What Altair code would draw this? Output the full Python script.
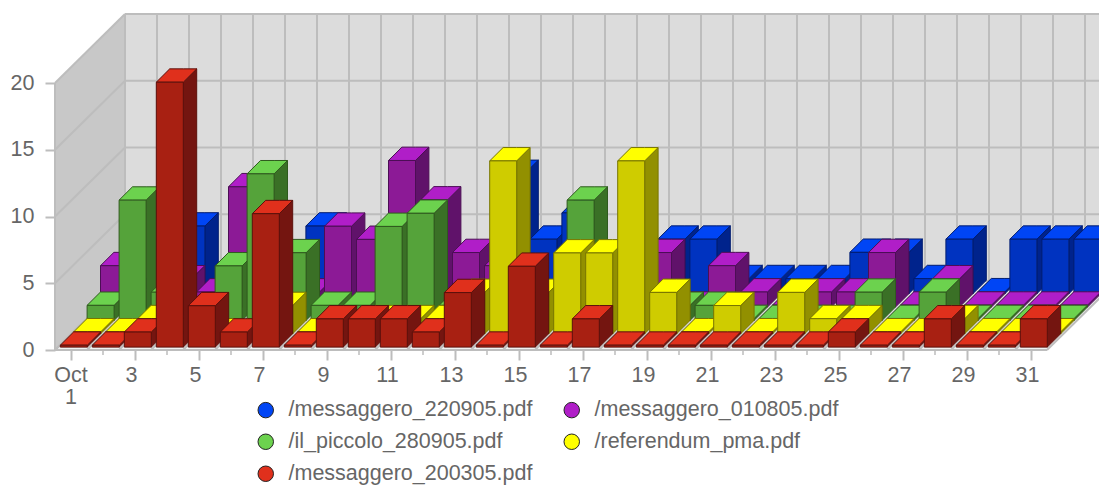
import altair as alt
import pandas as pd

days = list(range(1, 32))
names = ["/messaggero_220905.pdf", "/messaggero_010805.pdf", "/il_piccolo_280905.pdf",
         "/referendum_pma.pdf", "/messaggero_200305.pdf"]
blue   = [0,0,5,0,0,0,5,0,0,0,0,0,9,4,6,0,0,4,4,1,1,1,1,3,3,1,4,0,4,4,4]
purple = [3,0,2,1,9,0,1,6,5,11,8,4,3,0,0,0,0,4,0,3,1,0,1,1,4,0,2,0,0,0,0]
green  = [1,9,2,0,4,11,5,1,1,7,8,1,0,0,0,9,0,0,1,1,0,0,0,0,2,0,2,0,0,0,0]
yellow = [0,0,1,0,0,0,2,0,0,1,1,1,3,13,3,6,6,13,3,0,2,0,3,1,1,0,0,1,0,0,0]
red    = [0,0,1,20,3,1,10,0,2,2,2,1,4,0,6,0,2,0,0,0,0,0,0,0,1,0,0,2,0,0,2]
series = [blue, purple, green, yellow, red]

top_colors   = ["#0045f5", "#b01ec8", "#6cd24e", "#ffff00", "#e0301c"]
front_colors = ["#0033c0", "#8c1a96", "#55a33a", "#cfcc00", "#a82012"]
side_colors  = ["#00238c", "#60126a", "#3a7026", "#929000", "#741510"]
edge_colors  = ["#001c70", "#4c0e55", "#2f5a1e", "#777400", "#5c100c"]

WALL = "#dcdcdc"
SIDE = "#c8c8c8"
FLOOR = "#f2f2f2"
GRID = "#bdbdbd"
TEXT = "#666666"
FONT = "Liberation Sans"

PXX, PXY = 32.0, 13.35
W, H = 1044, 340
x_scale = alt.Scale(domain=[0.5, 0.5 + W / PXX], nice=False, zero=False)
y_scale = alt.Scale(domain=[0, H / PXY], nice=False, zero=False)
x_axis = alt.Axis(values=days[::2], labels=False, title=None, domain=False, grid=False,
                  tickColor=GRID, tickWidth=2, tickSize=10)
y_axis = alt.Axis(values=[0, 5, 10, 15, 20], title=None, domain=False, grid=False, tickColor=GRID,
                  tickWidth=2, tickSize=10, labelFont=FONT, labelFontSize=21.5, labelColor=TEXT,
                  labelPadding=11)
X = alt.X("x:Q", scale=x_scale, axis=x_axis)
Y = alt.Y("y:Q", scale=y_scale, axis=y_axis)
X2 = alt.X2("x2:Q")
Y2 = alt.Y2("y2:Q")

wall_dx, wall_dy = 70 / PXX, 5.17
step_dx, step_dy = 13.4 / PXX, 1.0
left_off, bar_w = 10.7 / PXX, 27 / PXX
base_v, top_v, gain = 0.217, 0.36, 0.985
x0, x1 = 0.5, 31.5
ymax = 20


def poly(rows, color, stroke=None):
    df = pd.DataFrame(rows, columns=["k", "x", "y", "y2"])
    kw = {"fill": color}
    if stroke:
        kw.update(stroke=stroke, strokeWidth=1, strokeJoin="round")
    return alt.Chart(df).mark_area(orient="vertical", **kw).encode(x=X, y=Y, y2=Y2, detail="k:N")


def lines(rows, width=2):
    df = pd.DataFrame(rows, columns=["k", "x", "y"])
    return alt.Chart(df).mark_line(color=GRID, strokeWidth=width).encode(x=X, y=Y, detail="k:N")


layers = []
# walls and floor
layers.append(poly([(0, x0, ymax, 0), (0, x0 + wall_dx, ymax + wall_dy, wall_dy)], SIDE))
layers.append(poly([(0, x0 + wall_dx, ymax + wall_dy, wall_dy), (0, x1 + wall_dx, ymax + wall_dy, wall_dy)], WALL))
layers.append(poly([(0, x0, 0, 0), (0, x0 + wall_dx, wall_dy, 0),
                    (0, x1, wall_dy, 0), (0, x1 + wall_dx, wall_dy, wall_dy)], FLOOR))
# grid
rows = []
for v in [0, 5, 10, 15, 20]:
    rows += [(f"s{v}", x0, v), (f"s{v}", x0 + wall_dx, v + wall_dy),
             (f"b{v}", x0 + wall_dx, v + wall_dy), (f"b{v}", x1 + wall_dx, v + wall_dy)]
for d in range(0, 32):
    xb = x0 + d + wall_dx
    rows += [(f"v{d}", xb, wall_dy), (f"v{d}", xb, ymax + wall_dy)]
    rows += [(f"f{d}", x0 + d, 0), (f"f{d}", xb, wall_dy)]
rows += [("l", x0, 0), ("l", x0, ymax), ("e", x0, 0), ("e", x1, 0)]
layers.append(lines(rows))

# columns, back to front
for s, values in enumerate(series):
    depth = 4 - s
    ox, oy = depth * step_dx, depth * step_dy
    sides, tops, fronts = [], [], []
    for d, v in zip(days, values):
        L = d - left_off + ox
        R = L + bar_w
        base = base_v + oy
        top = top_v + oy + gain * v
        sides += [(d, R, top, base), (d, R + step_dx, top + step_dy, base + step_dy)]
        tops += [(d, L, top, top), (d, L + step_dx, top + step_dy, top),
                 (d, R, top + step_dy, top), (d, R + step_dx, top + step_dy, top + step_dy)]
        fronts.append((L, R, top, base))
    layers.append(poly(sides, side_colors[s], edge_colors[s]))
    layers.append(poly(tops, top_colors[s], edge_colors[s]))
    fdf = pd.DataFrame(fronts, columns=["x", "x2", "y", "y2"])
    layers.append(alt.Chart(fdf).mark_rect(fill=front_colors[s], stroke=edge_colors[s], strokeWidth=1)
                  .encode(x=X, x2=X2, y=Y, y2=Y2))

# minor ticks
minor_df = pd.DataFrame({"x": days[1::2]})
layers.append(alt.Chart(minor_df).mark_rule(color=GRID, strokeWidth=1.5).encode(
    x=X, y=alt.value(H), y2=alt.value(H + 5)))

# x labels
labels_df = pd.DataFrame({"x": days[2::2], "t": [str(d) for d in days[2::2]]})
layers.append(alt.Chart(labels_df).mark_text(font=FONT, fontSize=21.5, color=TEXT, baseline="top", dx=-3.5).encode(
    x=X, y=alt.value(H + 15), text="t:N"))
first_df = pd.DataFrame({"x": days[:1], "t": ["Oct\n1"]})
layers.append(alt.Chart(first_df).mark_text(font=FONT, fontSize=21.5, color=TEXT, baseline="top",
                                            lineBreak="\n", lineHeight=22).encode(
    x=X, y=alt.value(H + 15), text="t:N"))

# legend
legend_df = pd.DataFrame({"x": [x0] * 5, "y": [0] * 5, "series": names})
layers.append(alt.Chart(legend_df).mark_circle(size=0).encode(
    x=X, y=Y,
    color=alt.Color("series:N", scale=alt.Scale(domain=names, range=top_colors), legend=alt.Legend(
        orient="none", legendX=200, legendY=389, columns=2, direction="horizontal", title=None,
        symbolType="circle",
        symbolSize=240, symbolStrokeColor="#222222", symbolStrokeWidth=1, symbolOpacity=1,
        labelFont=FONT, labelFontSize=21.5, labelColor=TEXT, labelLimit=400, labelOffset=12,
        rowPadding=9, columnPadding=28, padding=0)),
))

chart = alt.layer(*layers).properties(
    width=W, height=H,
    padding={"left": 47, "top": 2, "right": 0, "bottom": 135},
    autosize=alt.AutoSizeParams(type="none"),
    background="white",
).configure_view(stroke=None)

chart.save("out.html", embed_options={"renderer": "svg", "actions": False})
